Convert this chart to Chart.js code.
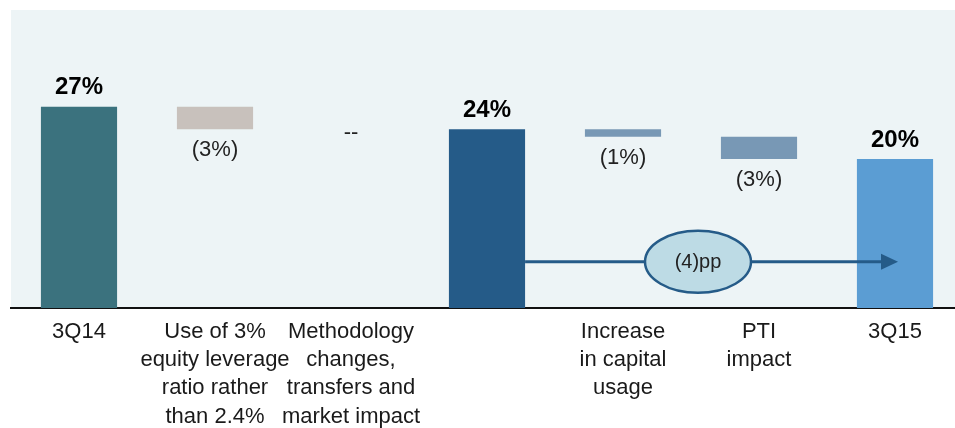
<!DOCTYPE html>
<html>
<head>
<meta charset="utf-8">
<title>Leverage bridge 3Q14 to 3Q15</title>
<script src="https://cdn.jsdelivr.net/npm/chart.js@4/dist/chart.umd.min.js"></script>
<style>
    html, body { margin: 0; padding: 0; background: #ffffff; overflow: hidden; }
    #frame { width: 955px; height: 428px; overflow: hidden; }
    #wrap { width: 963px; height: 428px; position: relative; }
</style>
</head>
<body>
<div id="frame"><div id="wrap"><canvas id="bridgeChart"></canvas></div></div>
<script>
// categories along the bridge (multi-line labels)
const categories = [
    ['3Q14'],
    ['Use of 3%', 'equity leverage', 'ratio rather', 'than 2.4%'],
    ['Methodology', 'changes,', 'transfers and', 'market impact'],
    [''],
    ['Increase', 'in capital', 'usage'],
    ['PTI', 'impact'],
    ['3Q15']
];
// totals (null where the step is a change)
const totals = [27, null, null, 24, null, null, 20];
// changes (null where the step is a total)
const changes = [null, -3, 0, null, -1, -3, null];
const totalLabels = ['27%', null, null, '24%', null, null, '20%'];
const changeLabels = [null, '(3%)', '--', null, '(1%)', '(3%)', null];
const barColors = ['#3b727e', '#c8c1bc', '#c8c1bc', '#255b88', '#7898b5', '#7898b5', '#5b9dd3'];

// overall move shown by the arrow
const moveLabel = '(4)pp';
const moveLevel = 6.2;
const moveFrom = 3;
const moveTo = 6;

// running totals -> floating bars
let running = 0;
const bars = totals.map((t, i) => {
    if (t !== null) { running = t; return [0, t]; }
    const start = running;
    running = running + changes[i];
    if (changes[i] === 0) return null;
    return [running, start];
});

const FONT = '"Liberation Sans", Arial, sans-serif';

const plotBackground = {
    id: 'plotBackground',
    beforeDraw(chart) {
        const { ctx, chartArea: a } = chart;
        ctx.save();
        ctx.fillStyle = '#edf4f6';
        ctx.fillRect(a.left, a.top, a.right - a.left, a.bottom - a.top);
        ctx.restore();
    }
};

const barText = {
    id: 'barText',
    afterDatasetsDraw(chart) {
        const { ctx, scales: { x, y } } = chart;
        ctx.save();
        ctx.textAlign = 'center';
        ctx.textBaseline = 'middle';
        let level = 0;
        categories.forEach((c, i) => {
            const cx = x.getPixelForValue(i);
            if (totals[i] !== null) {
                level = totals[i];
                ctx.font = 'bold 24px ' + FONT;
                ctx.fillStyle = '#000';
                ctx.fillText(totalLabels[i], cx, y.getPixelForValue(totals[i]) - 19);
            } else {
                level += changes[i];
                ctx.font = '22px ' + FONT;
                ctx.fillStyle = '#222';
                if (changes[i] === 0) {
                    ctx.fillText(changeLabels[i], cx, y.getPixelForValue(level) + 4);
                } else {
                    ctx.fillText(changeLabels[i], cx, y.getPixelForValue(level) + 21);
                }
            }
        });
        ctx.restore();
    }
};

const moveArrow = {
    id: 'moveArrow',
    afterDatasetsDraw(chart) {
        const { ctx, scales: { x, y } } = chart;
        const bar = chart.getDatasetMeta(0).data[moveFrom];
        const x0 = bar.x + bar.width / 2;
        const x1 = x.getPixelForValue(moveTo);
        const yy = y.getPixelForValue(moveLevel);
        ctx.save();
        ctx.strokeStyle = '#255b88';
        ctx.fillStyle = '#255b88';
        ctx.lineWidth = 3;
        ctx.beginPath();
        ctx.moveTo(x0, yy);
        ctx.lineTo(x1 - 14, yy);
        ctx.stroke();
        ctx.beginPath();
        ctx.moveTo(x1 + 3, yy);
        ctx.lineTo(x1 - 14, yy - 8);
        ctx.lineTo(x1 - 14, yy + 8);
        ctx.closePath();
        ctx.fill();
        // bubble with the overall change
        const ex = (x.getPixelForValue(4) + x.getPixelForValue(5)) / 2 + 7;
        ctx.beginPath();
        ctx.ellipse(ex, yy, 53, 31, 0, 0, Math.PI * 2);
        ctx.fillStyle = '#bddbe5';
        ctx.fill();
        ctx.lineWidth = 2.5;
        ctx.stroke();
        ctx.fillStyle = '#222';
        ctx.font = '20px ' + FONT;
        ctx.textAlign = 'center';
        ctx.textBaseline = 'middle';
        ctx.fillText(moveLabel, ex, yy + 1);
        ctx.restore();
    }
};

new Chart(document.getElementById('bridgeChart').getContext('2d'), {
    type: 'bar',
    data: {
        labels: categories,
        datasets: [{
            data: bars,
            backgroundColor: barColors,
            borderWidth: 0,
            categoryPercentage: 1,
            barPercentage: 0.56
        }]
    },
    options: {
        responsive: true,
        maintainAspectRatio: false,
        animation: false,
        layout: { padding: { left: 11, top: 10, right: 0, bottom: 0 } },
        plugins: { legend: { display: false }, tooltip: { enabled: false } },
        scales: {
            x: {
                grid: { display: false, drawTicks: false },
                border: { display: true, color: '#111', width: 2 },
                ticks: {
                    color: '#1a1a1a',
                    padding: 10,
                    maxRotation: 0,
                    autoSkip: false,
                    font: { family: FONT, size: 22, lineHeight: 1.28 }
                },
                afterFit(scale) { scale.height = 120; }
            },
            y: {
                display: false,
                min: 0,
                max: 40
            }
        }
    },
    plugins: [plotBackground, barText, moveArrow]
});
</script>
</body>
</html>
